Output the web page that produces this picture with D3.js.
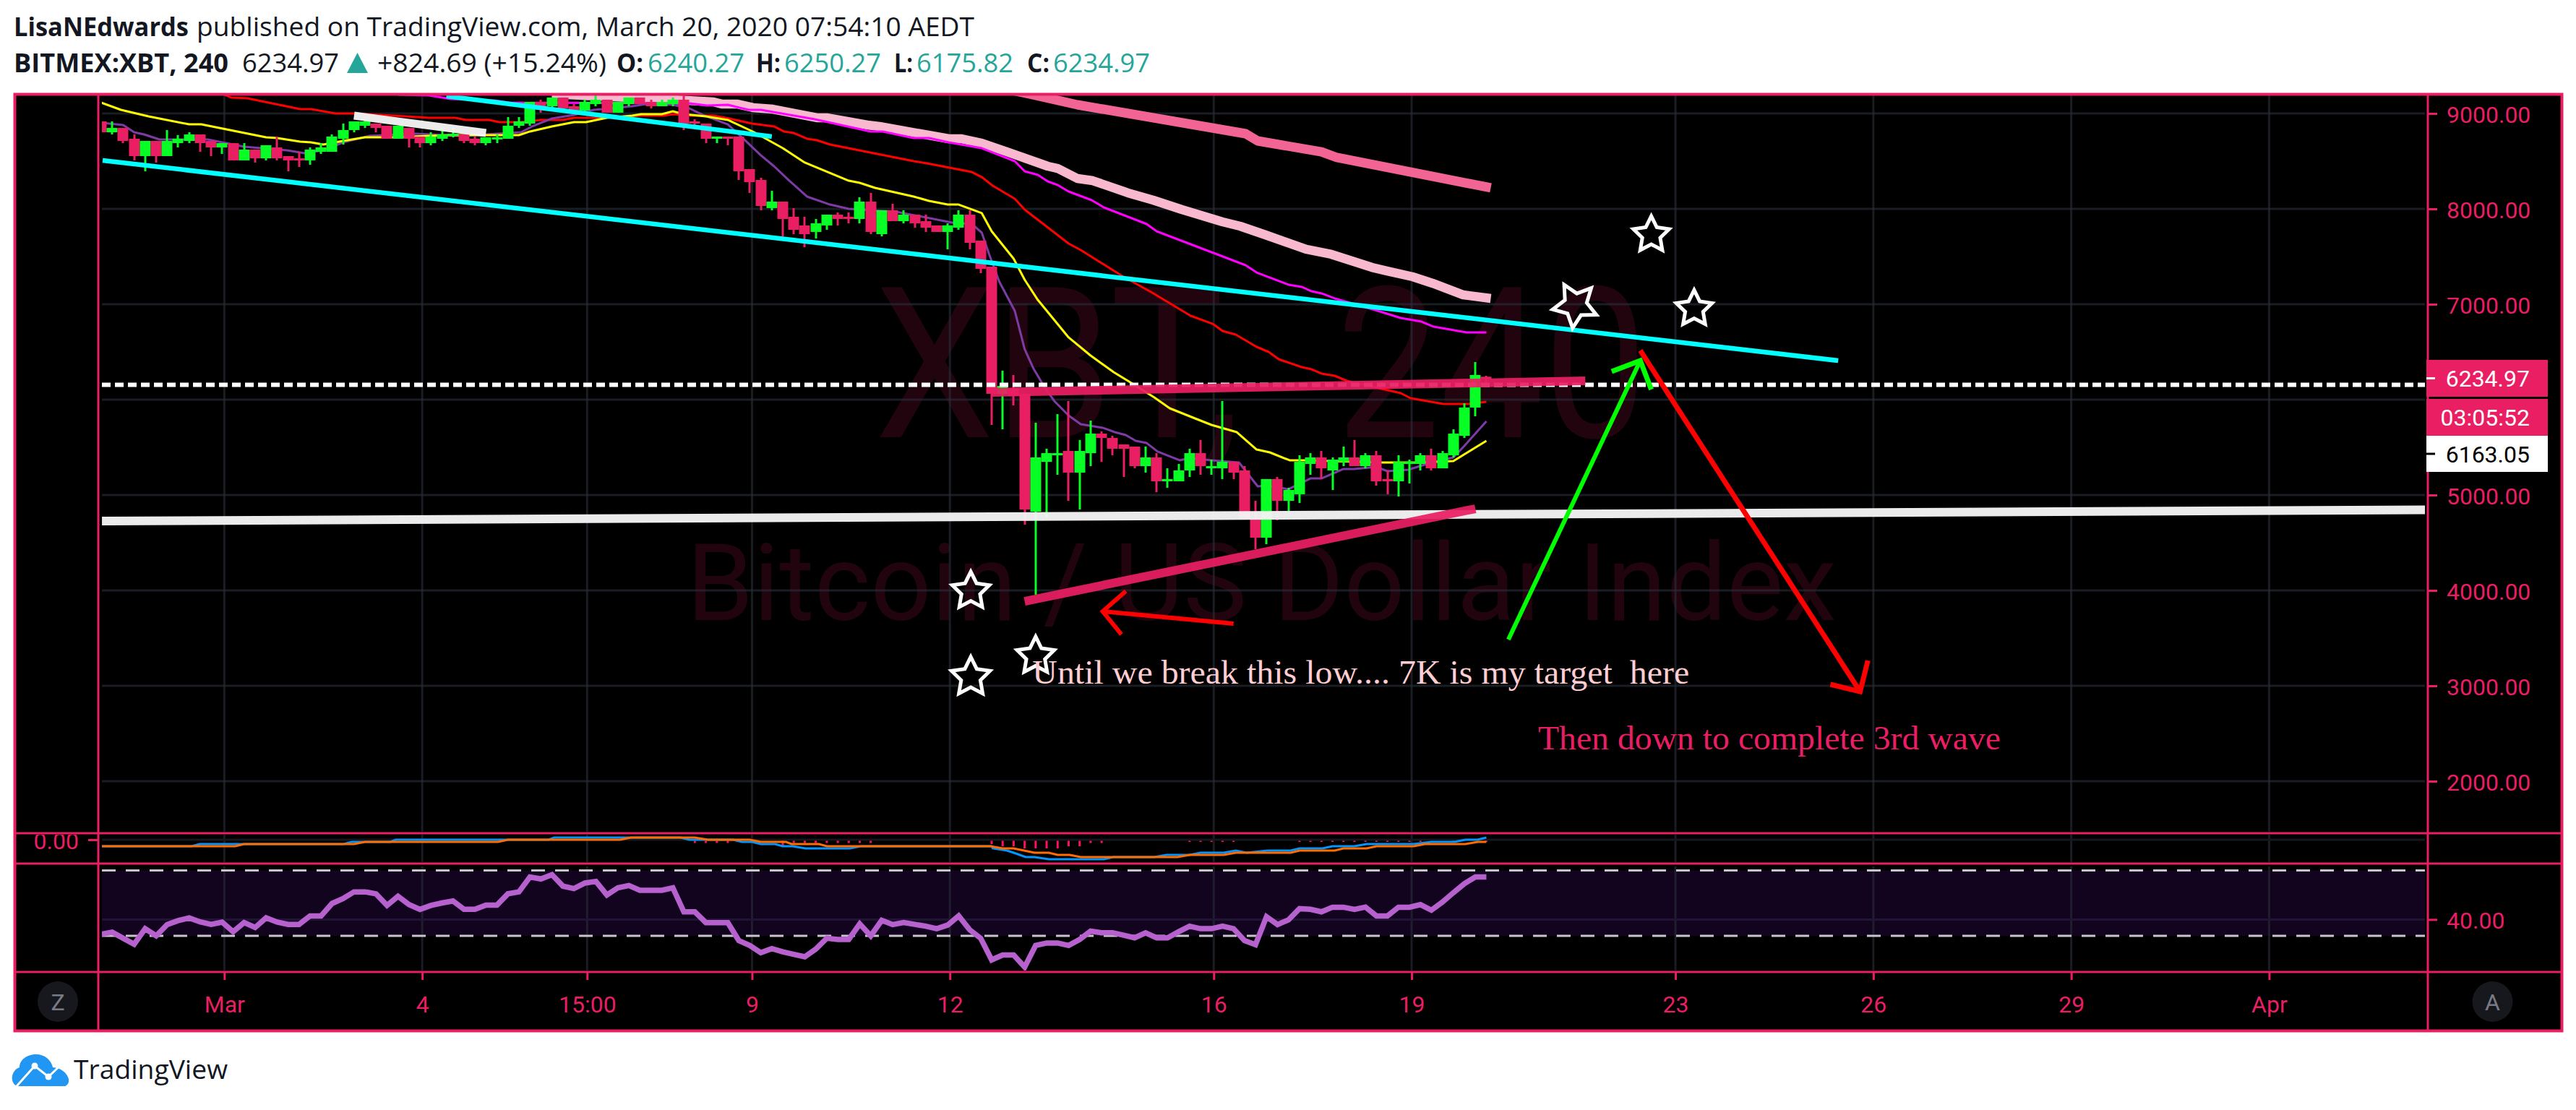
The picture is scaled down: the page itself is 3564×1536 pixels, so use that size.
<!DOCTYPE html>
<html><head><meta charset="utf-8">
<style>html,body{margin:0;padding:0;background:#fff}svg{display:block}</style>
<script src="https://cdnjs.cloudflare.com/ajax/libs/d3/7.8.5/d3.min.js"></script>
</head><body><svg id="c" width="3564" height="1536"></svg>
<script>
// ---------- candles, one entry per 4h bar ----------
const opens=[8917,8803,8848,8735,8553,8712,8553,8689,8712,8780,8712,8644,8689,8508,8621,8530,8644,8553,8530,8508,8598,8598,8735,8826,8871,8894,8871,8735,8848,8758,8689,8735,8765,8780,8735,8689,8735,8735,8871,8894,9121,9076,9167,9076,9030,9098,9144,9008,9098,9167,9121,9076,9098,9144,8917,8894,8735,8758,8758,8417,8303,8008,8076,7917,7826,7758,7826,7939,7917,7894,8076,7735,7985,7871,7939,7871,7826,7758,7803,7939,7667,7394,6061,6121,6061,4826,5348,5417,5462,5235,5439,5644,5598,5530,5508,5303,5394,5144,5144,5258,5439,5280,5280,5348,5258,4758,4553,5167,4939,5008,5326,5394,5258,5348,5394,5303,5417,5167,5144,5326,5326,5417,5280,5417,5621,5917,6240.27];
const highs=[8917,8917,8848,8780,8712,8712,8826,8773,8803,8780,8712,8689,8689,8689,8621,8667,8758,8553,8598,8644,8689,8780,8894,8917,8939,8894,8871,8871,8848,8758,8803,8848,8848,8780,8758,8750,8780,8962,8962,9121,9144,9167,9167,9098,9144,9189,9144,9121,9167,9167,9144,9144,9167,9205,8939,8894,8758,8758,8758,8417,8326,8189,8076,8008,7917,7894,7939,7962,7962,8121,8167,7985,8053,7985,7939,7939,7826,7848,7985,7985,7667,7394,6303,6258,6061,5758,5485,5848,5985,5576,5780,5667,5621,5530,5508,5508,5439,5280,5326,5485,5576,5371,5985,5348,5303,4939,5167,5189,5076,5417,5439,5462,5394,5508,5576,5439,5462,5258,5417,5371,5439,5485,5462,5689,5962,6394,6250.27];
const lows=[8803,8780,8689,8508,8394,8485,8553,8644,8689,8598,8553,8576,8508,8508,8485,8508,8508,8394,8439,8462,8576,8598,8674,8803,8848,8803,8735,8735,8644,8644,8667,8712,8750,8689,8667,8667,8689,8735,8848,8871,9008,9053,9053,9030,9015,9076,9008,9008,9076,9098,9053,9076,9076,8826,8871,8689,8689,8667,8303,8167,7985,7985,7712,7735,7598,7689,7780,7826,7848,7848,7735,7712,7871,7848,7803,7758,7758,7576,7780,7576,7326,5735,5689,5939,4689,3955,4758,5212,4939,4848,5303,5348,5417,5189,5280,5235,5030,5076,5144,5189,5212,5212,5167,5167,4758,4432,4485,4735,4826,4917,5212,5167,5053,5303,5303,5280,5098,5008,4985,5121,5258,5258,5280,5394,5598,5826,6175.82];
const closes=[8803,8848,8712,8553,8712,8553,8712,8735,8780,8689,8644,8689,8508,8621,8530,8667,8530,8508,8508,8621,8644,8758,8826,8917,8917,8848,8735,8871,8735,8689,8758,8780,8788,8712,8689,8750,8750,8871,8917,9121,9076,9167,9053,9030,9121,9144,9008,9121,9167,9098,9076,9121,9144,8894,8894,8735,8758,8735,8394,8280,8030,8076,7894,7780,7735,7848,7939,7894,7894,8076,7758,7985,7871,7939,7848,7803,7758,7826,7939,7644,7371,6061,6144,6038,4848,5394,5439,5439,5235,5462,5644,5598,5485,5485,5303,5394,5144,5167,5258,5439,5303,5303,5348,5235,4758,4553,5167,4939,5053,5348,5394,5280,5371,5394,5303,5417,5144,5144,5348,5348,5417,5280,5439,5644,5917,6258,6234.97];

// ---------- moving averages: [bar index, price] ----------
const yellowMA=[[0,9114],[1.8,9038],[4.3,8970],[8,8886],[9.1,8886],[15,8750],[16,8742],[18.1,8705],[19.1,8697],[20.2,8674],[22,8712],[24,8750],[26.5,8750],[31.6,8773],[38,8773],[39,8811],[41,8864],[43,8909],[44.1,8909],[46,8955],[48.3,8977],[49.1,8992],[51,8992],[52,9023],[53,8992],[55,8970],[57,8932],[59.4,8803],[62,8636],[64,8485],[68,8295],[69,8273],[70.4,8220],[73.9,8129],[75.3,8083],[77,8045],[78,8045],[80.1,7955],[81,7765],[83,7477],[84,7258],[85.2,7045],[88,6652],[90,6462],[92.1,6288],[93.5,6189],[95.8,6023],[97.2,5909],[99.5,5803],[101,5735],[103.3,5659],[105.1,5477],[106.3,5447],[108.1,5364],[109.6,5364],[116.6,5341],[120,5341],[123,5356],[126,5568]];
const purpleMA=[[0.1,8902],[2,8879],[3,8803],[3.9,8780],[5.3,8727],[9.7,8727],[13,8652],[16.9,8614],[18.5,8583],[20.2,8614],[22,8697],[24.4,8765],[28.6,8788],[32.8,8765],[38.2,8803],[39.2,8864],[41,8947],[43,8985],[44.8,9038],[45.6,9045],[48.3,9076],[49.6,9098],[52,9091],[53.5,9053],[54.9,8977],[57,8886],[58.5,8727],[60,8561],[61.2,8447],[62.6,8295],[64.2,8129],[66.3,8045],[68,8000],[72.3,7970],[77.4,7856],[79.2,7841],[80.1,7750],[80.8,7515],[81.7,7235],[83.1,6932],[84,6530],[84.8,6326],[85.9,6114],[86.7,5985],[88,5833],[89.1,5742],[91.1,5705],[92.2,5659],[93.2,5629],[94.1,5568],[95.1,5545],[96.1,5455],[98.1,5364],[99,5386],[101,5364],[103.5,5341],[105.2,5091],[106.1,5098],[108,5061],[110,5174],[111,5174],[113,5273],[114,5273],[116,5295],[117,5250],[118.9,5265],[121,5341],[123,5394],[124,5515],[126,5773]];
const redMA=[[11.2,9197],[11.8,9167],[13.3,9159],[18.1,9045],[19.1,9045],[21.3,9000],[23.1,9000],[27.7,8970],[29.8,8955],[32.2,8955],[33.2,8932],[35.3,8932],[36.2,8909],[38.2,8909],[40,8932],[42,8932],[43,8955],[45.2,8955],[49.2,8977],[51.1,8977],[52.1,8992],[53.5,8977],[55.7,8977],[56.8,8955],[59.2,8894],[61.2,8864],[62.1,8811],[63,8795],[64.2,8735],[65.1,8720],[66.3,8674],[73.9,8500],[75.1,8477],[79.2,8386],[80.1,8333],[81.1,8242],[83.1,8106],[84,7992],[88,7636],[89.1,7568],[93,7288],[95.6,7121],[99.1,6879],[101.1,6795],[102,6720],[103.2,6682],[105.1,6553],[106.2,6500],[107.1,6424],[109.2,6341],[110.1,6318],[111,6273],[112.2,6250],[113.3,6197],[118.2,6068],[119.1,6015],[122.1,5955],[124.4,5955],[126,5977]];
const magentaMA=[[27,9197],[29.8,9189],[31.8,9152],[35.8,9136],[37.1,9114],[53.5,9106],[55.1,9083],[57,9091],[58.9,9038],[60,9038],[64.9,8939],[70,8811],[71.1,8811],[73.9,8742],[75.3,8742],[77.1,8697],[80.1,8636],[83.1,8500],[84,8394],[85.2,8356],[86.1,8288],[87,8250],[88,8182],[90.1,8091],[91.2,8015],[95.1,7841],[96,7765],[104.1,7409],[105.1,7333],[108,7205],[109.2,7182],[110.1,7136],[111,7114],[112.2,7061],[114.3,6992],[116.1,6932],[118.2,6856],[120.1,6818],[121.2,6765],[124.2,6705],[126,6705]];
const lightPinkMA=[[41,9205],[46.5,9174],[49.8,9159],[55.7,9121],[56.5,9098],[57.9,9098],[59.3,9061],[61.1,9045],[65.1,8955],[66,8955],[69.7,8879],[70.8,8864],[77.1,8735],[78.2,8735],[80.1,8689],[82.4,8598],[86.1,8447],[87,8424],[88.8,8318],[90.2,8295],[93.4,8167],[95.7,8091],[98.3,7992],[102,7864],[103.6,7818],[105.9,7727],[109.6,7576],[111.9,7523],[115.6,7386],[117,7348],[119.3,7288],[121.1,7220],[123.9,7098],[126.4,7061]];
const deepPinkMA=[[81,9290],[84.7,9197],[88.8,9091],[104.1,8788],[105.2,8712],[111,8598],[112.4,8538],[126.4,8220]];

// ---------- MACD and RSI panes ----------
const macdLine=[[0,-300],[8.2,-300],[8.97,-200],[22.05,-200],[22.8,-100],[26.3,-100],[26.8,0],[40.7,0],[41.2,100],[52.7,100],[53.5,0],[57.5,0],[58.3,-100],[59.2,-100],[60,-200],[61.3,-200],[62,-300],[62.9,-300],[64.05,-400],[68.1,-400],[69.1,-300],[81,-300],[81.1,-400],[82.4,-500],[83,-600],[84.1,-800],[84.9,-800],[86.2,-900],[91.2,-900],[92.05,-800],[95.8,-800],[96.9,-700],[99,-700],[100,-600],[102.1,-600],[103.2,-500],[104.2,-600],[106.1,-500],[108.2,-500],[109,-400],[111.1,-400],[112,-300],[114,-300],[115.1,-200],[119.4,-200],[121,-100],[123.1,-100],[124.1,0],[125.2,0],[126,100]];
const signalLine=[[0,-300],[12.2,-300],[13,-200],[23,-200],[24,-100],[36.1,-100],[37,0],[47.2,0],[48.2,100],[54,100],[55.2,0],[59,0],[60,-100],[62.3,-100],[62.8,-200],[65.3,-200],[66,-300],[80.9,-300],[82,-400],[83,-400],[84.9,-600],[86.2,-600],[87,-700],[88.1,-700],[89.1,-800],[97.9,-800],[99,-700],[102.1,-700],[103.2,-600],[108.2,-600],[109,-500],[112.2,-500],[113,-400],[115.1,-400],[116,-300],[119.4,-300],[120.4,-200],[124.1,-200],[125.2,-100],[126,-100]];
const histBars=[[54,-150],[55,-150],[56,-150],[57,-150],[62,-270],[63,-150],[64,-150],[65,-150],[66,-150],[67,-150],[68,-150],[69,-150],[70,-150],[81,-200],[82,-300],[83,-300],[84,-400],[85,-400],[86,-400],[87,-400],[88,-300],[89,-300],[90,-150],[91,-150],[99,-100],[100,-100],[101,-100],[102,-100],[103,-100],[109,-100],[110,-100],[111,-100],[112,-100],[113,-100],[114,-100],[115,-100],[116,-100],[117,-100],[118,-100],[119,-100],[120,-100],[123,-100],[126,-100]];
const rsiValues=[31,32.2,28.5,24.9,34.4,30,36.9,39.3,41,38.5,37,38.4,32.5,38.1,35.1,41,38.4,37,37,42.2,42.2,49.8,52.8,56.9,56.9,55.7,48.6,54.2,49.1,46.2,48.6,50.1,51.3,46.2,46.2,48.8,48.8,55.7,56.9,66,64.8,67.4,60.4,58.9,62.3,63.3,55,59.4,60.8,57.9,57.9,57.9,59.4,44.7,44.7,38.1,38.1,38.1,27.1,24.1,19.7,22.2,20.2,18.7,17.2,21.9,28.5,27.8,27.8,37.3,30,39.5,36.9,38.1,37,35.9,34.4,36.6,42.2,33.7,28.5,15.3,18.3,18.3,10.9,24.1,25.6,25.6,24.1,27.8,32.9,31.9,31.9,30.4,28.8,31.8,28.8,28.8,32.5,35.9,34.4,34.4,35.9,34.4,27.1,24.6,41.7,36.9,39.8,46.6,46.2,44.7,47.5,47.5,46.2,47.6,42.2,42.2,47.5,47.5,49.1,45.7,50.6,56.4,61.9,66,66];

// ---------- axis ticks ----------
const priceTicks=[2000,3000,4000,5000,6000,7000,8000,9000];
const hiddenPriceLabel=6000; // sits fully behind the live price tags
const dateTickBars=[11.2,29.2,44.2,59.2,77.2,101.2,119.2,143.2,161.2,179.2,197.2];
const dateTickLabels=["Mar","4","15:00","9","12","16","19","23","26","29","Apr"];
const rsiTicks=[40];
const macdTicks=[0];
const rsiBand=[30,70];

// ---------- trader's drawings: [bar index, price] ----------
const cyanLong=[[0.13,8508],[158,6409]];
const cyanShort=[[31.4,9182],[61,8758]];
const whiteShort=[[23,8977],[35,8795]];
const whiteLong=[[0.07,4727],[211.4,4845]];
const dashedLevel=6155;
const pinkFlat=[[81,6076],[135,6197]];
const pinkRising=[[84,3886],[125,4856]];
const greenShaft=[[128,3485],[140,6409]];
const greenHead=[[137.4,6295],[140,6409],[141,6106]];
const redShaft=[[140,6515],[160,2939]];
const redHead=[[157.3,3015],[160,2939],[160.7,3265]];
const smallRedShaft=[[103,3652],[91.1,3780]];
const smallRedHead=[[93.2,3992],[91.1,3780],[92.8,3538]];
const stars=[[141,7727,0,26],[144.9,6951,0,26],[134.1,6992,-29,32],[79.1,3992,0,27],[85,3311,0,27],[79.1,3091,0,28]];
const noteUntil={bar:84.7,price:3023,text:"Until we break this low.... 7K is my target  here"};
const noteThen={bar:130.7,price:2333,text:"Then down to complete 3rd wave"};

// ---------- last values ----------
const lastPrice=6234.97, countdown="03:05:52", prevLabel=6163.05;

const PINK="#E91E63", UP="#08FF26", GRID="rgba(42,46,57,0.62)";
const svg=d3.select("#c");
const X0=140, BAR=15.21;
const x=d3.scaleLinear().domain([0,126]).range([X0,X0+126*BAR]);
const y=d3.scaleLinear().domain([5000,9000]).range([685,157]);
const rsiY=d3.scaleLinear().domain([30,70]).range([1295,1204.5]);
const macdY=d3.scaleLinear().domain([0,-1000]).range([1162,1192]);
const AX="Roboto, sans-serif";

svg.append("rect").attr("width",3564).attr("height",1536).attr("fill","#fff");
// header
const hd=svg.append("g").attr("font-family","'Open Sans', sans-serif").attr("font-size",36).attr("fill","#131722");
function h(px,py,t,len,w,fill){const e=hd.append("text").attr("x",px).attr("y",py).attr("textLength",len).attr("lengthAdjust","spacingAndGlyphs").text(t).attr("font-weight",w||400);if(fill)e.attr("fill",fill);return e;}
const TEAL="#26a69a";
h(19,50,"LisaNEdwards",242,700);
h(272,50,"published on TradingView.com, March 20, 2020 07:54:10 AEDT",1076);
h(19,100,"BITMEX:XBT, 240",297,700);
h(335,100,lastPrice.toFixed(2),134);
hd.append("path").attr("d","M480 101L494.5 73L509 101Z").attr("fill",TEAL);
h(522,100,"+824.69 (+15.24%)",317);
h(853,100,"O:",37,700);h(896,100,"6240.27",134,400,TEAL);
h(1046,100,"H:",34,700);h(1085,100,"6250.27",134,400,TEAL);
h(1237,100,"L:",26,700);h(1268,100,"6175.82",134,400,TEAL);
h(1421,100,"C:",31,700);h(1457,100,"6234.97",134,400,TEAL);

// black chart body
svg.append("rect").attr("x",20).attr("y",130).attr("width",3525).attr("height",1296).attr("fill","#000");
const defs=svg.append("defs");
defs.append("clipPath").attr("id","main").append("rect").attr("x",141).attr("y",132).attr("width",3214).attr("height",1019);
defs.append("clipPath").attr("id","macd").append("rect").attr("x",141).attr("y",1155).attr("width",3214).attr("height",38);
defs.append("clipPath").attr("id","rsi").append("rect").attr("x",141).attr("y",1197).attr("width",3214).attr("height",146);
defs.append("clipPath").attr("id","macdAxis").append("rect").attr("x",22).attr("y",1155).attr("width",113).attr("height",38);

const main=svg.append("g").attr("clip-path","url(#main)");
// watermarks
const wm="rgba(233,30,99,0.14)";
const wmText=(px,py,fs,len,t)=>main.append("text").attr("x",px).attr("y",py).attr("font-family",AX).attr("font-size",fs).attr("fill",wm).attr("textLength",len).attr("lengthAdjust","spacingAndGlyphs").text(t);
wmText(1210,605,292,507,"XBT,");
wmText(1849,605,292,430,"240");
wmText(950,858,148,1591,"Bitcoin / US Dollar Index");
// grid
const vgrid=(g,a,b)=>g.selectAll(null).data(dateTickBars).join("line").attr("x1",d=>x(d)).attr("x2",d=>x(d)).attr("y1",a).attr("y2",b).attr("stroke",GRID).attr("stroke-width",3);
vgrid(main,132,1151);
main.selectAll(null).data(priceTicks).join("line").attr("x1",141).attr("x2",3355).attr("y1",d=>y(d)).attr("y2",d=>y(d)).attr("stroke",GRID).attr("stroke-width",3);

// moving averages
const ln=d3.line().x(d=>x(d[0])).y(d=>y(d[1]));
const mas=[[deepPinkMA,"#F26493",13],[lightPinkMA,"#F8B8CE",12.5],[magentaMA,"#FF00FF",3],[redMA,"#FF0000",3],[purpleMA,"#7E3BA6",3],[yellowMA,"#FFFF00",3]];
main.selectAll(null).data(mas).join("path").attr("d",d=>ln(d[0])).attr("fill","none").attr("stroke",d=>d[1]).attr("stroke-width",d=>d[2]).attr("stroke-linejoin","round");

// candles
const bars=opens.map((o,i)=>({i,o,h:highs[i],l:lows[i],c:closes[i]}));
const col=d=>d.c>=d.o?UP:PINK;
main.selectAll(null).data(bars).join("rect").attr("x",d=>Math.round(x(d.i))-1.5).attr("width",3).attr("y",d=>y(d.h)).attr("height",d=>y(d.l)-y(d.h)).attr("fill",col);
main.selectAll(null).data(bars).join("rect").attr("x",d=>Math.round(x(d.i))-7.5).attr("width",15).attr("y",d=>y(Math.max(d.o,d.c))).attr("height",d=>Math.max(3,Math.abs(y(d.o)-y(d.c)))).attr("fill",col);

// drawings
const draw=(pts,c,w,op)=>main.append("path").attr("d",ln(pts)).attr("fill","none").attr("stroke",c).attr("stroke-width",w).attr("stroke-opacity",op||1).attr("stroke-linejoin","miter");
main.append("line").attr("x1",141).attr("x2",3355).attr("y1",y(dashedLevel)).attr("y2",y(dashedLevel)).attr("stroke","#fff").attr("stroke-width",6).attr("stroke-dasharray","12 6");
draw(whiteLong,"#F5F5F5",12,.96);
draw(whiteShort,"#F5F5F5",11,.96);
draw(cyanLong,"#00FFFF",6.5);
draw(cyanShort,"#00FFFF",6.5);
draw(pinkFlat,PINK,12,.93);
draw(pinkRising,PINK,12,.93);
draw(greenShaft,"#00FF00",6);draw(greenHead,"#00FF00",7);
draw(redShaft,"#FF0000",7);draw(redHead,"#FF0000",7);
draw(smallRedShaft,"#FF0000",6);draw(smallRedHead,"#FF0000",6);

const star=d3.lineRadial().angle((d,i)=>i*Math.PI/5).radius(d=>d).curve(d3.curveLinearClosed);
main.selectAll(null).data(stars).join("path")
 .attr("d",d=>star(d3.range(10).map(i=>i%2?d[3]*0.5:d[3])))
 .attr("transform",d=>`translate(${x(d[0])},${y(d[1])}) rotate(${d[2]})`)
 .attr("fill","none").attr("stroke","#fff").attr("stroke-width",5).attr("stroke-linejoin","miter");

const note=(n,c,len)=>main.append("text").attr("x",x(n.bar)).attr("y",y(n.price)).attr("font-family","'Liberation Serif', serif").attr("font-size",47).attr("fill",c).attr("textLength",len).attr("lengthAdjust","spacingAndGlyphs").style("white-space","pre").text(n.text);
note(noteUntil,"#FFCDD2",909);
note(noteThen,PINK,640);

// MACD pane
const mp=svg.append("g").attr("clip-path","url(#macd)");
mp.selectAll(null).data(histBars).join("rect").attr("x",d=>x(d[0])-1.5).attr("width",3).attr("y",macdY(0)).attr("height",d=>macdY(d[1])-macdY(0)).attr("fill","#FF0F5F");
vgrid(mp,1155,1193);
mp.append("line").attr("x1",141).attr("x2",3355).attr("y1",macdY(0)).attr("y2",macdY(0)).attr("stroke","#15181f").attr("stroke-width",3);
const ml=d3.line().x(d=>x(d[0])).y(d=>macdY(d[1]));
mp.append("path").attr("d",ml(macdLine)).attr("fill","none").attr("stroke","#0496FF").attr("stroke-width",3);
mp.append("path").attr("d",ml(signalLine)).attr("fill","none").attr("stroke","#FF6D00").attr("stroke-width",3);

// RSI pane
const rp=svg.append("g").attr("clip-path","url(#rsi)");
rp.append("rect").attr("x",141).attr("width",3214).attr("y",rsiY(rsiBand[1])).attr("height",rsiY(rsiBand[0])-rsiY(rsiBand[1])).attr("fill","#12031F");
vgrid(rp,1199,1343);
rp.selectAll(null).data(rsiTicks).join("line").attr("x1",141).attr("x2",3355).attr("y1",d=>rsiY(d)).attr("y2",d=>rsiY(d)).attr("stroke","#211536").attr("stroke-width",3);
rp.selectAll(null).data(rsiBand).join("line").attr("x1",141).attr("x2",3355).attr("y1",d=>rsiY(d)).attr("y2",d=>rsiY(d)).attr("stroke","#C9C5CC").attr("stroke-width",3).attr("stroke-dasharray","19 14");
rp.append("path").attr("d",d3.line().x((d,i)=>x(i)).y(d=>rsiY(d))(rsiValues)).attr("fill","none").attr("stroke","#B761CF").attr("stroke-width",7.5).attr("stroke-linejoin","miter");

// frame
const frame=svg.append("g").attr("stroke",PINK).attr("stroke-width",3).attr("fill","none");
frame.append("rect").attr("x",20.5).attr("y",130.5).attr("width",3524).attr("height",1296).attr("stroke-width",4);
[1153,1195,1345].forEach(v=>frame.append("line").attr("x1",20).attr("x2",3545).attr("y1",v).attr("y2",v));
[136,3359].forEach(v=>frame.append("line").attr("x1",v).attr("x2",v).attr("y1",130).attr("y2",1426));

// axes
function styleAxis(g){
  g.select(".domain").remove();
  g.selectAll("line").attr("stroke",PINK).attr("stroke-width",3);
  g.selectAll("text").attr("fill",PINK).attr("font-family",AX).attr("font-size",32);
}
const fmt=d3.format(".2f");
svg.append("g").attr("transform","translate(3359,0)").call(d3.axisRight(y).tickValues(priceTicks).tickFormat(d=>d===hiddenPriceLabel?"":fmt(d)).tickSize(13).tickPadding(13)).call(styleAxis).selectAll("text").attr("dy","0.38em");
svg.append("g").attr("transform","translate(3359,0)").call(d3.axisRight(rsiY).tickValues(rsiTicks).tickFormat(fmt).tickSize(13).tickPadding(13)).call(styleAxis).selectAll("text").attr("dy","0.38em");
svg.append("g").attr("clip-path","url(#macdAxis)").append("g").attr("transform","translate(136,0)").call(d3.axisLeft(macdY).tickValues(macdTicks).tickFormat(fmt).tickSize(14).tickPadding(13)).call(styleAxis).selectAll("text").attr("dy","0.38em");
svg.append("g").attr("transform","translate(0,1345)").call(d3.axisBottom(x).tickValues(dateTickBars).tickFormat((d,i)=>dateTickLabels[i]).tickSize(11).tickPadding(22)).call(styleAxis);

// price labels
const labs=[[y(lastPrice)-24,51,PINK,"#fff",fmt(lastPrice),true],[y(lastPrice)+30,51,PINK,"#fff",countdown,false],[603,50,"#fff","#000",fmt(prevLabel),true]];
labs.forEach(([ty,ht,bg,fg,t,tick])=>{
  svg.append("rect").attr("x",3357).attr("y",ty).attr("width",168).attr("height",ht).attr("fill",bg);
  svg.append("text").attr("x",3500).attr("y",ty+ht/2+12).attr("text-anchor","end").attr("font-family",AX).attr("font-size",32).attr("fill",fg).text(t);
  if(tick)svg.append("rect").attr("x",3357).attr("y",ty+ht/2-1.5).attr("width",12).attr("height",3).attr("fill",fg);
});

// round buttons
[[80,"Z"],[3448.5,"A"]].forEach(([cx,t])=>{
  svg.append("circle").attr("cx",cx).attr("cy",1386).attr("r",28).attr("fill","#16181D");
  svg.append("text").attr("x",cx).attr("y",1398).attr("text-anchor","middle").attr("font-family",AX).attr("font-size",32).attr("fill","#787B86").text(t);
});

// logo
const logo=svg.append("g");
logo.append("path").attr("d","M24 1503C13 1499 15 1481 27 1477C27 1466 38 1459 50 1459C62 1459 71 1467 73 1477C92 1478 102 1498 90 1503Z").attr("fill","#2196F3");
logo.append("path").attr("d","M23 1503L48 1475L67 1490L88 1470").attr("fill","none").attr("stroke","#fff").attr("stroke-width",3);
[[48,1475],[67,1490]].forEach(p=>logo.append("circle").attr("cx",p[0]).attr("cy",p[1]).attr("r",4.5).attr("fill","#fff"));
svg.append("text").attr("x",102).attr("y",1493).attr("font-family","'Open Sans', sans-serif").attr("font-size",37).attr("textLength",213).attr("lengthAdjust","spacingAndGlyphs").attr("fill","#131722").text("TradingView");
</script></body></html>
